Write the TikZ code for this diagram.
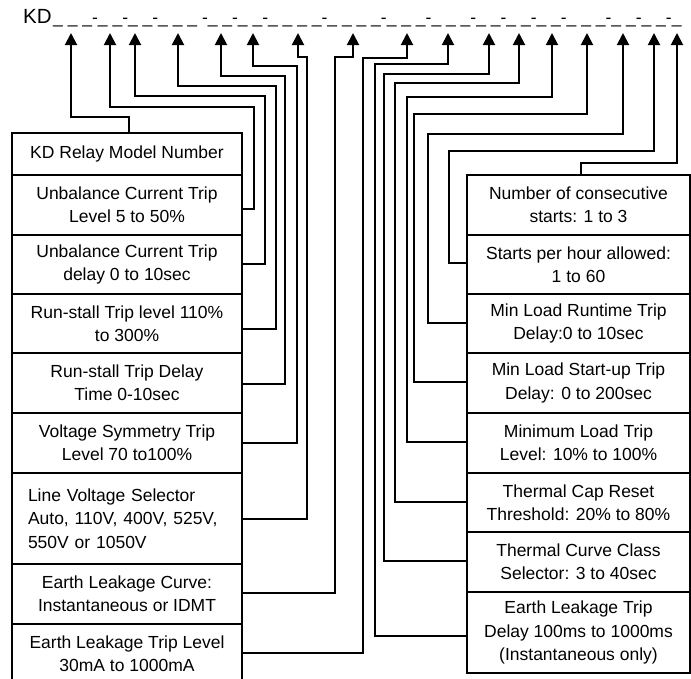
\documentclass[tikz,border=0pt]{standalone}
\usepackage{fontspec}
\setmainfont{Liberation Sans}
\usetikzlibrary{arrows.meta}
\begin{document}
\begin{tikzpicture}[x=1pt,y=-1pt,
  conn/.style={line width=1.9pt,-{Triangle[width=12pt,length=12pt]}},
  lbox/.style={draw,line width=1.9pt,rectangle,minimum width=230pt,inner sep=0pt,align=center,
    font=\fontsize{17.5}{23.3}\selectfont},
  rbox/.style={draw,line width=1.9pt,rectangle,minimum width=223pt,inner sep=0pt,align=center,
    font=\fontsize{17.5}{23.3}\selectfont}]
\useasboundingbox[fill=white] (0,0) rectangle (691,678);
% header
\node[anchor=base west,inner sep=0pt,font=\fontsize{20.5}{22}\selectfont] (kd) at (23,23.5) {KD};
\node[anchor=base west,inner sep=0pt,font=\fontsize{17.5}{22}\selectfont] (code) at (53,23)
 {\_ \_ \_-\_ \_-\_ \_-\_ \_ \_\ -\_ \_-\_ \_-\_ \_ \_ \_-\_ \_ \_ \_-\_ \_ \_-\_ \_ \_-\_ \_-\_ \_-\_ \_-\_ \_ \_-\_ \_-\_ \_-\_};
% arrow tips
\coordinate (t1) at (71,33);
\coordinate (t2) at (110,33);
\coordinate (t3) at (135,33);
\coordinate (t4) at (178,33);
\coordinate (t5) at (221,33);
\coordinate (t6) at (253,33);
\coordinate (t7) at (298,33);
\coordinate (t8) at (353,33);
\coordinate (t9) at (407,33);
\coordinate (t10) at (448,33);
\coordinate (t11) at (489,33);
\coordinate (t12) at (519,33);
\coordinate (t13) at (552,33);
\coordinate (t14) at (587,33);
\coordinate (t15) at (623,33);
\coordinate (t16) at (654,33);
\coordinate (t17) at (677,33);
% left boxes
\node[lbox,minimum height=42pt] (b1) at (127,154) {KD Relay Model Number};
\node[lbox,minimum height=60pt] (b2) at (127,205) {Unbalance Current Trip\\Level 5 to 50\%};
\node[lbox,minimum height=59pt] (b3) at (127,264.5) {Unbalance Current Trip\\delay 0 to 10sec};
\node[lbox,minimum height=59pt] (b4) at (127,323.5) {Run-stall Trip level 110\%\\to 300\%};
\node[lbox,minimum height=60pt] (b5) at (127,383) {Run-stall Trip Delay\\Time 0-10sec};
\node[lbox,minimum height=60pt] (b6) at (127,443) {Voltage Symmetry Trip\\Level 70 to100\%};
\node[lbox,minimum height=91pt,align=left,text width=198pt,inner xsep=16pt] (b7) at (127,518.5) {Line Voltage Selector\\Auto, 110V, 400V, 525V,\\550V or 1050V};
\node[lbox,minimum height=60pt] (b8) at (127,594) {Earth Leakage Curve:\\Instantaneous or IDMT};
\node[lbox,minimum height=60pt] (b9) at (127,654) {Earth Leakage Trip Level\\30mA to 1000mA};
% right boxes
\node[rbox,minimum height=60pt] (r1) at (578.5,205) {Number of consecutive\\starts: 1 to 3};
\node[rbox,minimum height=59pt] (r2) at (578.5,264.5) {Starts per hour allowed:\\1 to 60};
\node[rbox,minimum height=59pt] (r3) at (578.5,323.5) {Min Load Runtime Trip\\Delay:0 to 10sec};
\node[rbox,minimum height=60pt] (r4) at (578.5,383) {Min Load Start-up Trip\\Delay: 0 to 200sec};
\node[rbox,minimum height=60pt] (r5) at (578.5,443) {Minimum Load Trip\\Level: 10\% to 100\%};
\node[rbox,minimum height=59pt] (r6) at (578.5,502.5) {Thermal Cap Reset\\Threshold: 20\% to 80\%};
\node[rbox,minimum height=60pt] (r7) at (578.5,562) {Thermal Curve Class\\Selector: 3 to 40sec};
\node[rbox,minimum height=81pt] (r8) at (578.5,632.5) {Earth Leakage Trip\\Delay 100ms to 1000ms\\(Instantaneous only)};
% left connectors
\draw[conn] (b1.north -| 129,0) |- (71,117) -- (t1);
\draw[conn] (b2.east |- 0,209) -| (254,107) -| (t2);
\draw[conn] (b3.east |- 0,264) -| (265,96) -| (t3);
\draw[conn] (b4.east |- 0,329) -| (276,86) -| (t4);
\draw[conn] (b5.east |- 0,384) -| (285,76) -| (t5);
\draw[conn] (b6.east |- 0,443) -| (297,66) -| (t6);
\draw[conn] (b7.east |- 0,519) -| (307,57) -| (t7);
\draw[conn] (b8.east |- 0,593) -| (335,57) -| (t8);
\draw[conn] (b9.east |- 0,653) -| (363,58) -| (t9);
% right connectors
\draw[conn] (r8.west |- 0,636) -| (375,64) -| (t10);
\draw[conn] (r7.west |- 0,561) -| (384,74) -| (t11);
\draw[conn] (r6.west |- 0,502) -| (395,83) -| (t12);
\draw[conn] (r5.west |- 0,442) -| (407,97) -| (t13);
\draw[conn] (r4.west |- 0,382) -| (414,114) -| (t14);
\draw[conn] (r3.west |- 0,323) -| (428,134) -| (t15);
\draw[conn] (r2.west |- 0,263) -| (449,151) -| (t16);
\draw[conn] (r1.north -| 581,0) |- (677,163) -- (t17);
\end{tikzpicture}
\end{document}
